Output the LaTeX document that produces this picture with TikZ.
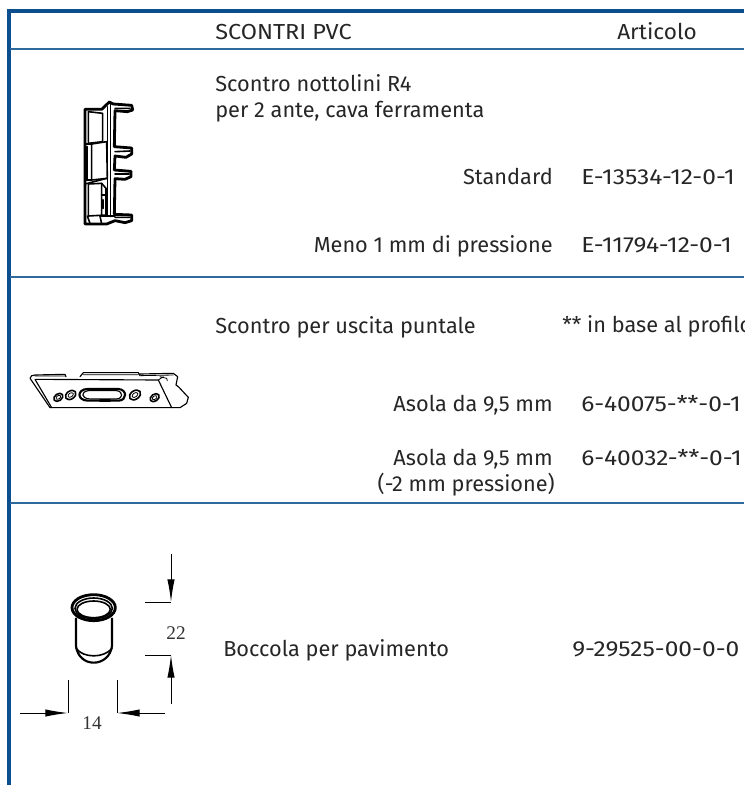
\documentclass[tikz,border=0pt]{standalone}
\usepackage{fontspec}
\setmainfont{Fira Sans}[Scale=1]
\newfontfamily\dimfont{Liberation Serif}
\usetikzlibrary{arrows.meta}
\definecolor{frameblue}{HTML}{0B4F8E}
\definecolor{rowblue}{HTML}{2F6A9E}
\newcommand{\codetxt}[1]{\scalebox{1.13}[1]{#1}}
\tikzset{
  x=0.75pt,y=-0.75pt,
  framerule/.style={frameblue,line width=3pt},
  rowrule/.style={rowblue,line width=0.9pt},
  txt/.style={inner sep=0pt,font=\fontsize{16.3}{19}\selectfont\color{black!85},anchor=base west},
  txtr/.style={txt,anchor=base east},
  part/.style={black,line width=1.2pt,line join=round,line cap=round},
  partfine/.style={black,line width=0.85pt,line join=round,line cap=round},
  partthin/.style={black,line width=0.6pt,line join=round,line cap=round},
  partthick/.style={black,line width=1.6pt,line join=round,line cap=round},
  partheavy/.style={black,line width=2.1pt,line join=round,line cap=round},
  dimline/.style={black,line width=0.75pt},
  dimarrow/.style={black,line width=0.75pt,-{Latex[length=17pt,width=5.5pt]}},
  dimtxt/.style={inner sep=0pt,font=\dimfont\fontsize{14.5}{16}\selectfont\color{black!80}}
}
\begin{document}
\begin{tikzpicture}
\useasboundingbox (0,0) rectangle (744,785);
\clip (0,0) rectangle (744,785);
% frame
\draw[framerule] (744,10.5) -- (9,10.5) -- (9,785);
\coordinate (r1a) at (10,49); \coordinate (r1b) at (744,49);
\coordinate (r2a) at (10,277); \coordinate (r2b) at (744,277);
\coordinate (r3a) at (10,503); \coordinate (r3b) at (744,503);
\draw[rowrule] (r1a) -- (r1b);
\draw[rowrule] (r2a) -- (r2b);
\draw[rowrule] (r3a) -- (r3b);
% texts
\node[txt] (head) at (215,39) {\scalebox{1.08}[1]{SCONTRI PVC}};
\node[txt] (art) at (617,39) {\scalebox{1.04}[1]{Articolo}};
\node[txt] (t1a) at (215,91) {Scontro nottolini R4};
\node[txt] (t1b) at (215,117) {per 2 ante, cava ferramenta};
\node[txtr] (t1c) at (553,184) {Standard};
\node[txt] (c1c) at (581,184) {\codetxt{E-13534-12-0-1}};
\node[txtr] (t1d) at (553,252) {Meno 1 mm di pressione};
\node[txt] (c1d) at (581,252) {\codetxt{E-11794-12-0-1}};
\node[txt] (t2a) at (215,333) {Scontro per uscita puntale};
\node[txt] (c2a) at (562,332) {** in base al profilo};
\node[txtr] (t2b) at (553,411) {Asola da 9,5 mm};
\node[txt] (c2b) at (581,411) {\codetxt{6-40075-**-0-1}};
\node[txtr] (t2c) at (553,465) {Asola da 9,5 mm};
\node[txt] (c2c) at (581,465) {\codetxt{6-40032-**-0-1}};
\node[txtr] (t2d) at (555,491) {(-2 mm pressione)};
\node[txt] (t3) at (223,656) {Boccola per pavimento};
\node[txt] (c3) at (572,656) {\codetxt{9-29525-00-0-0}};
% part 1: latch strike, zoom coordinates
\begin{scope}[shift={(50,80)},x=0.25pt,y=-0.25pt]
\draw[partheavy] (105,88) -- (155,88) -- (178,66) -- (190,72) -- (245,76) -- (248,90) -- (232,95) -- (195,92) -- (193,200) -- (245,204) -- (245,222) -- (228,232) -- (195,228) -- (193,270) -- (243,274) -- (243,290) -- (225,298) -- (195,296) -- (193,403) -- (245,405) -- (245,422) -- (225,428) -- (195,422) -- (170,432) -- (105,432) -- cycle;
\draw[part] (172,80) -- (172,405) (182,72) -- (182,410);
\draw[part] (115,95) -- (158,100) -- (158,185) -- (115,190) -- cycle;
\draw[part] (125,192) -- (170,185) -- (172,295) -- (125,300) -- cycle;
\draw[partthick] (105,192) -- (125,192) (105,300) -- (125,300) (110,200) -- (110,300);
\draw[part] (115,312) -- (155,310) -- (168,325) -- (168,405) -- (115,408) -- cycle;
\draw[part] (155,310) -- (155,408) (105,312) -- (170,295);
\draw[partthick] (155,345) -- (165,345) (160,360) -- (160,385);
\draw[part] (112,408) -- (120,430) (150,408) -- (155,432) (155,408) -- (195,408);
\draw[part] (195,85) -- (240,85) (195,215) -- (240,213) (195,282) -- (238,282) (195,412) -- (240,412);
\end{scope}
% part 2: strike plate
\begin{scope}[shift={(10,360)},x=0.25pt,y=-0.25pt]
\draw[partfine] (60,55) .. controls (60,48) and (68,45) .. (75,45) -- (165,43) -- (168,50) (210,50) -- (220,38) -- (385,38) -- (390,47) (390,42) -- (490,40) -- (503,50) -- (498,75) -- (505,80) -- (535,112) -- (530,130) -- (510,143) -- (485,143) -- (120,143) -- (65,62) -- (60,55);
\draw[partthin] (75,48) -- (165,48) (220,44) -- (385,44) (390,47) -- (490,45);
\draw[partfine] (78,58) -- (445,60) -- (485,143) (75,58) -- (125,143);
\draw[partthin] (450,50) -- (470,55) -- (472,62) (445,60) -- (460,50);
\draw[partthick] (232,87) -- (325,87) .. controls (352,88) and (352,122) .. (325,122) -- (235,122) .. controls (200,122) and (200,88) .. (232,87) -- cycle;
\draw[partfine] (235,92) -- (320,92) .. controls (340,95) and (340,115) .. (320,117) -- (240,117) .. controls (212,115) and (212,95) .. (235,92);
\draw[partheavy] (270,121) -- (300,121);
\foreach \cx/\cy/\r in {145/112/13,182/105/15,375/105/16,434/113/13}{
  \draw[part,rotate around={35:(\cx,\cy)}] (\cx,\cy) ellipse ({\r*1.15} and {\r*0.8});
  \draw[partthin,rotate around={35:(\cx,\cy)}] (\cx,\cy) ellipse ({\r*0.6} and {\r*0.38});
}
\end{scope}
% part 3: bushing
\begin{scope}[shift={(0,540)},x=0.25pt,y=-0.25pt]
\draw[partheavy] (281,203) ellipse (65 and 39);
\draw[part] (281,205) ellipse (56 and 31);
\draw[part] (281,208) ellipse (50 and 25);
\draw[partthick] (228,235) -- (228,318) .. controls (232,350) and (255,368) .. (281,368) .. controls (307,368) and (332,350) .. (336,318) -- (336,235);
\draw[part] (228,325) .. controls (250,355) and (312,355) .. (336,325);
\end{scope}
% dimensions
\coordinate (d1a) at (171,554); \coordinate (d1b) at (171,602); \coordinate (d1c) at (145,602);
\coordinate (d2a) at (171,704); \coordinate (d2b) at (171,655); \coordinate (d2c) at (145,655);
\coordinate (d3a) at (20,713); \coordinate (d3b) at (68,713); \coordinate (d3c) at (68,680);
\coordinate (d4a) at (165,713); \coordinate (d4b) at (117,713); \coordinate (d4c) at (117,680);
\draw[dimarrow] (d1a) -- (d1b); \draw[dimline] (d1c) -- (d1b);
\draw[dimarrow] (d2a) -- (d2b); \draw[dimline] (d2c) -- (d2b);
\draw[dimarrow] (d3a) -- (d3b); \draw[dimline] (d3c) -- (d3b);
\draw[dimarrow] (d4a) -- (d4b); \draw[dimline] (d4c) -- (d4b);
\node[dimtxt] (n22) at (176,633) {22};
\node[dimtxt] (n14) at (92,723) {14};
\end{tikzpicture}
\end{document}
